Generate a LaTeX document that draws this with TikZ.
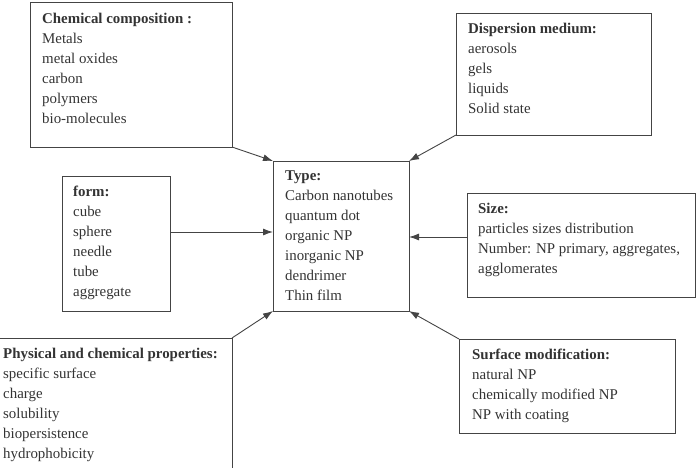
\documentclass[tikz,border=0pt]{standalone}
\usepackage{fontspec}
\setmainfont{Liberation Serif}
\usetikzlibrary{arrows.meta,calc}
\definecolor{linec}{HTML}{444444}
\definecolor{txtc}{HTML}{333333}
\tikzset{
  boxnode/.style={draw=linec, line width=0.9pt, rectangle, inner sep=0pt, outer sep=0pt},
  txtnode/.style={anchor=north west, inner sep=0pt, align=left, text=txtc,
    font=\fontsize{14.9}{20}\selectfont},
  conn/.style={draw=linec, line width=0.9pt, -{Latex[length=10pt,width=7pt]}}
}
\begin{document}
\begin{tikzpicture}[x=1pt,y=-1pt]
\useasboundingbox (0,0) rectangle (698,468);
% boxes
\node[boxnode, minimum width=202pt, minimum height=145pt] (chem) at (131,74.5) {};
\node[boxnode, minimum width=195pt, minimum height=122pt] (disp) at (553.5,74) {};
\node[boxnode, minimum width=108pt, minimum height=135pt] (form) at (116,243.5) {};
\node[boxnode, minimum width=136pt, minimum height=150pt] (type) at (341,236) {};
\node[boxnode, minimum width=228pt, minimum height=104pt] (size) at (581,245) {};
\node[boxnode, minimum width=241pt, minimum height=142pt] (phys) at (111.5,409) {};
\node[boxnode, minimum width=216pt, minimum height=94pt] (surf) at (567,386) {};
% texts
\node[txtnode] (chemt) at ($(chem.north west)+(12,11)$) {\textbf{Chemical composition :}\\Metals\\metal oxides\\carbon\\polymers\\bio-molecules};
\node[txtnode] (dispt) at ($(disp.north west)+(12,10)$) {\textbf{Dispersion medium:}\\aerosols\\gels\\liquids\\Solid state};
\node[txtnode] (formt) at ($(form.north west)+(11,10)$) {\textbf{form:}\\cube\\sphere\\needle\\tube\\aggregate};
\node[txtnode] (typet) at ($(type.north west)+(12,10)$) {\textbf{Type:}\\Carbon nanotubes\\quantum dot\\organic NP\\inorganic NP\\dendrimer\\Thin film};
\node[txtnode] (sizet) at ($(size.north west)+(11,10)$) {\textbf{Size:}\\particles sizes distribution\\Number: NP primary, aggregates,\\agglomerates};
\node[txtnode] (physt) at (3,348) {\textbf{Physical and chemical properties:}\\specific surface\\charge\\solubility\\biopersistence\\hydrophobicity};
\node[txtnode] (surft) at ($(surf.north west)+(13,10)$) {\textbf{Surface modification:}\\natural NP\\chemically modified NP\\NP with coating};
% connectors
\draw[conn] (chem.south east) -- (type.north west);
\draw[conn] (disp.south west) -- (type.north east);
\draw[conn] (form.east |- 0,232) -- (type.west |- 0,232);
\draw[conn] (size.west |- 0,237) -- (type.east |- 0,237);
\draw[conn] (phys.north east) -- (type.south west);
\draw[conn] (surf.north west) -- (type.south east);
\end{tikzpicture}
\end{document}
